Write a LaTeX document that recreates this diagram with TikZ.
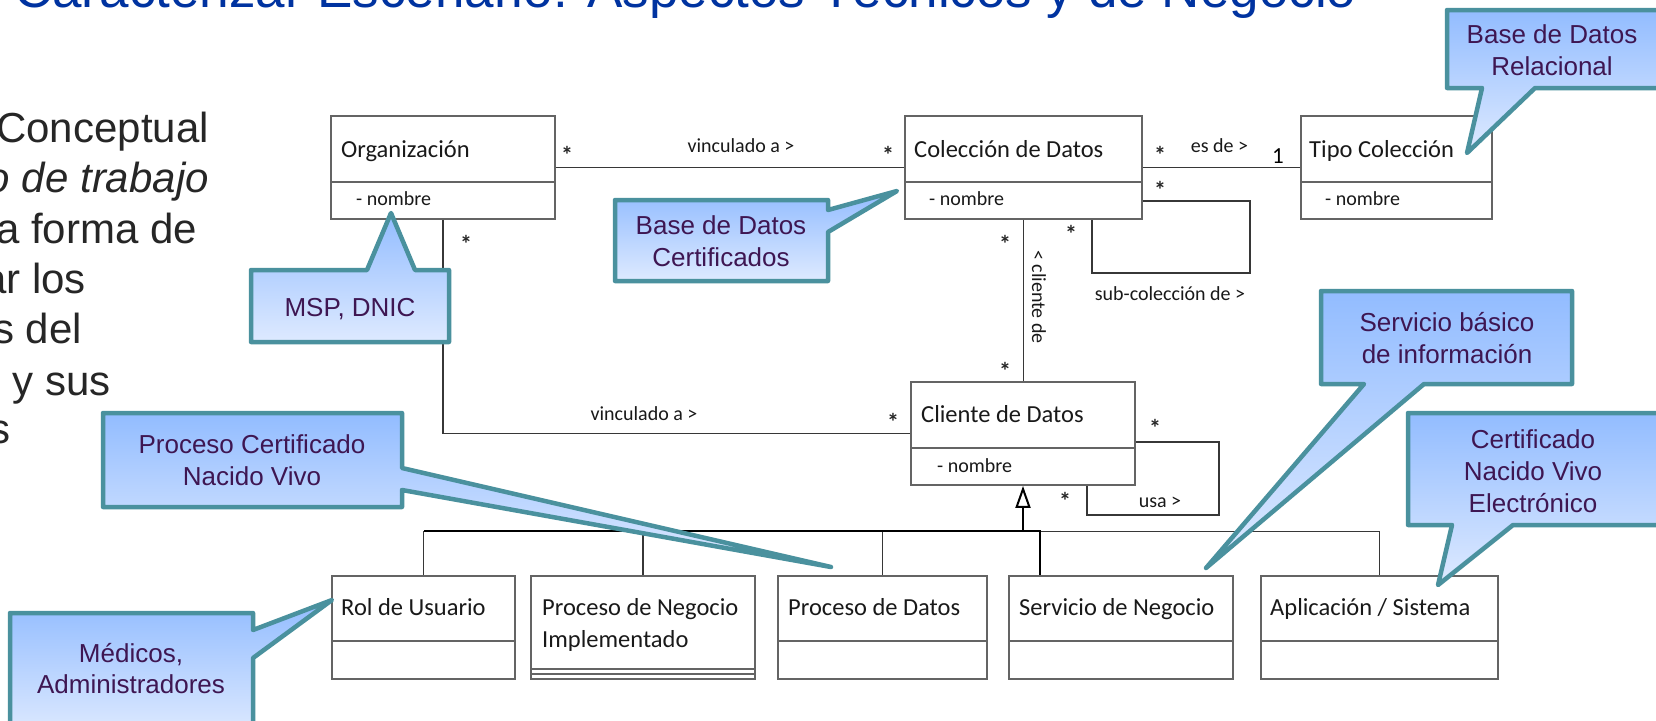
\documentclass[tikz,border=0pt]{standalone}
\usepackage{fontspec}
\setmainfont{Liberation Sans}
\newfontfamily\umlfont{Carlito}
\usetikzlibrary{arrows.meta,calc}
\definecolor{titleblue}{RGB}{0,51,160}
\definecolor{bodytext}{RGB}{38,38,38}
\definecolor{clsgray}{RGB}{100,100,100}
\definecolor{conngray}{RGB}{55,55,55}
\definecolor{calltop}{RGB}{146,188,255}
\definecolor{callbot}{RGB}{222,234,255}
\definecolor{callborder}{RGB}{74,145,158}
\definecolor{calltext}{RGB}{62,22,82}
\begin{document}
\begin{tikzpicture}[x=1pt,y=-1pt,
  cls/.style={draw=clsgray,line width=1.8pt,inner sep=0pt,fill=white},
  divline/.style={draw=clsgray,line width=1.8pt},
  clstxt/.style={font=\umlfont\fontsize{24.5}{29}\selectfont,text=black!90,inner sep=0pt,anchor=base west},
  attrtxt/.style={font=\umlfont\fontsize{20}{24}\selectfont,text=black!90,inner sep=0pt,anchor=base west},
  lbl/.style={font=\umlfont\fontsize{20}{24}\selectfont,text=black!90,inner sep=0pt,anchor=base},
  mult/.style={font=\umlfont\bfseries\fontsize{24}{28}\selectfont,text=black!85,inner sep=0pt,anchor=base},
  conn/.style={draw=conngray,line width=1.5pt},
  genbar/.style={draw=black,line width=2pt},
  callbox/.style={top color=calltop,bottom color=callbot,draw=callborder,line width=4.5pt,line join=round},
  calltxt/.style={font=\fontsize{26}{32}\selectfont,text=calltext,inner sep=0pt,anchor=base},
  bodyline/.style={font=\fontsize{42}{50}\selectfont,text=bodytext,inner sep=0pt,anchor=base east}]
\useasboundingbox (0,0) rectangle (1656,720);
\clip (0,0) rectangle (1656,720);
\fill[white] (0,0) rectangle (1656,720);

% title and body text (cut by the frame)
\node[font=\fontsize{53}{60}\selectfont,text=titleblue,inner sep=0pt,anchor=base west] (title) at (14,7.5) {Caracterizar Escenario: Aspectos Técnicos y de Negocio};
\node[bodyline] (b1) at (209,142) {Conceptual};
\node[bodyline,font=\fontsize{42}{50}\selectfont\itshape] (b2) at (209,192) {o de trabajo};
\node[bodyline] (b3) at (197,243) {a forma de};
\node[bodyline] (b4) at (86,293) {ar los};
\node[bodyline] (b5) at (82,343) {s del};
\node[bodyline] (b6) at (111,395) {o y sus};
\node[bodyline] (b7) at (11,443) {s};

% class boxes
\node[cls,minimum width=224pt,minimum height=103pt] (org) at (443,167.5) {};
\draw[divline] (331,182) -- (555,182);
\node[clstxt] (orgt) at (341,157) {Organización};
\node[attrtxt] (orga) at (356,205) {- nombre};

\node[cls,minimum width=237pt,minimum height=103pt] (col) at (1023.5,167.5) {};
\draw[divline] (905,182) -- (1142,182);
\node[clstxt] (colt) at (914,157) {Colección de Datos};
\node[attrtxt] (cola) at (929,205) {- nombre};

\node[cls,minimum width=191pt,minimum height=103pt] (tipo) at (1396.5,167.5) {};
\draw[divline] (1301,182) -- (1492,182);
\node[clstxt] (tipot) at (1309,157) {Tipo Colección};
\node[attrtxt] (tipoa) at (1325,205) {- nombre};

\node[cls,minimum width=224pt,minimum height=103pt] (cli) at (1023,433.5) {};
\draw[divline] (911,448) -- (1135,448);
\node[clstxt] (clit) at (921,422) {Cliente de Datos};
\node[attrtxt] (clia) at (937,472) {- nombre};

\node[cls,minimum width=183pt,minimum height=103pt] (rol) at (423.5,627.5) {};
\draw[divline] (332,641) -- (515,641);
\node[clstxt] (rolt) at (341,615) {Rol de Usuario};

\node[cls,minimum width=224pt,minimum height=103pt] (png) at (643,627.5) {};
\draw[divline] (531,669) -- (755,669);
\draw[divline] (531,674) -- (755,674);
\node[clstxt] (pngt) at (542,615) {Proceso de Negocio};
\node[clstxt] (pngu) at (542,647) {Implementado};

\node[cls,minimum width=209pt,minimum height=103pt] (pdat) at (882.5,627.5) {};
\draw[divline] (778,641) -- (987,641);
\node[clstxt] (pdatt) at (788,615) {Proceso de Datos};

\node[cls,minimum width=224pt,minimum height=103pt] (serv) at (1121,627.5) {};
\draw[divline] (1009,641) -- (1233,641);
\node[clstxt] (servt) at (1019,615) {Servicio de Negocio};

\node[cls,minimum width=237pt,minimum height=103pt] (apl) at (1379.5,627.5) {};
\draw[divline] (1261,641) -- (1498,641);
\node[clstxt] (aplt) at (1270,615) {Aplicación / Sistema};

% associations
\draw[conn] (org.east) -- (col.west);
\draw[conn] (col.east) -- (tipo.west);
\draw[conn] (org.south) |- (cli.west);
\draw[conn] (col.south) -- (col.south |- cli.north);
\draw[conn] ($(col.east)+(0,33.5)$) -- ++(107,0) |- ($(col.south)+(68.5,53)$) -- ($(col.south)+(68.5,0)$);
\draw[conn] ($(cli.east)+(0,8.5)$) -- ++(83,0) |- ($(cli.south)+(64,29)$) -- ($(cli.south)+(64,0)$);

% generalization
\coordinate (gj) at ($(cli.south)+(0,45.5)$);
\draw[conn] (gj) -| (rol.north);
\draw[conn] (gj) -| (png.north);
\draw[conn] (gj) -| (pdat.north);
\draw[conn] (gj) -| (apl.north);
\draw[genbar] (gj) -| ($(serv.north west)+(32,0)$);
\draw[genbar] (gj) -- (gj -| rol.north);
\draw[genbar,-{Triangle[open,length=22pt,width=15pt,line width=2pt]}] (gj) -- (cli.south);

% association labels
\node[lbl] (l1) at (741,152) {vinculado a >};
\node[lbl] (l2) at (644,420) {vinculado a >};
\node[lbl] (l3) at (1219.5,152) {es de >};
\node[lbl] (l4) at (1170,300) {sub-colección de >};
\node[lbl] (l5) at (1160,507) {usa >};
\node[lbl,rotate=-90] (l6) at (1032,297) {< cliente de};
\node[font=\umlfont\fontsize{23}{27}\selectfont,inner sep=0pt,anchor=base] (one) at (1278,163) {1};
\node[mult] (m1) at (567,163) {*};
\node[mult] (m2) at (888,163) {*};
\node[mult] (m3) at (466,252) {*};
\node[mult] (m4) at (893,430) {*};
\node[mult] (m5) at (1160,163) {*};
\node[mult] (m6) at (1160,198) {*};
\node[mult] (m7) at (1071,242) {*};
\node[mult] (m8) at (1005,252) {*};
\node[mult] (m9) at (1005,379) {*};
\node[mult] (m10) at (1155,436) {*};
\node[mult] (m11) at (1065,509) {*};

% callouts
\path[callbox] (251,270) -- (367,270) -- (391,213) -- (415,270) -- (449,270) -- (449,342) -- (251,342) -- cycle;
\node[calltxt] (c1) at (350,316) {MSP, DNIC};

\path[callbox] (615,200) -- (828,200) -- (828,210) -- (897,191) -- (828,232) -- (828,281) -- (615,281) -- cycle;
\node[calltxt] (c2a) at (721,234) {Base de Datos};
\node[calltxt] (c2b) at (721,266) {Certificados};

\path[callbox] (1447,10) -- (1662,10) -- (1662,88) -- (1535,88) -- (1467,153) -- (1482,88) -- (1447,88) -- cycle;
\node[calltxt] (c3a) at (1552,43) {Base de Datos};
\node[calltxt] (c3b) at (1552,75) {Relacional};

\path[callbox] (1321,291) -- (1572,291) -- (1572,384) -- (1424,384) -- (1206,568) -- (1364,384) -- (1321,384) -- cycle;
\node[calltxt] (c4a) at (1447,331) {Servicio básico};
\node[calltxt] (c4b) at (1447,363) {de información};

\path[callbox] (1408,413) -- (1662,413) -- (1662,525) -- (1513,525) -- (1438,585) -- (1452,525) -- (1408,525) -- cycle;
\node[calltxt] (c5a) at (1533,448) {Certificado};
\node[calltxt] (c5b) at (1533,480) {Nacido Vivo};
\node[calltxt] (c5c) at (1533,512) {Electrónico};

\path[callbox] (103,413) -- (402,413) -- (402,468) -- (831,567) -- (402,490) -- (402,507) -- (103,507) -- cycle;
\node[calltxt] (c6a) at (252,453) {Proceso Certificado};
\node[calltxt] (c6b) at (252,485) {Nacido Vivo};

\path[callbox] (10,613) -- (253,613) -- (253,630) -- (332,600) -- (253,658) -- (253,735) -- (10,735) -- cycle;
\node[calltxt] (c7a) at (131,662) {Médicos,};
\node[calltxt] (c7b) at (131,693) {Administradores};
\end{tikzpicture}
\end{document}
